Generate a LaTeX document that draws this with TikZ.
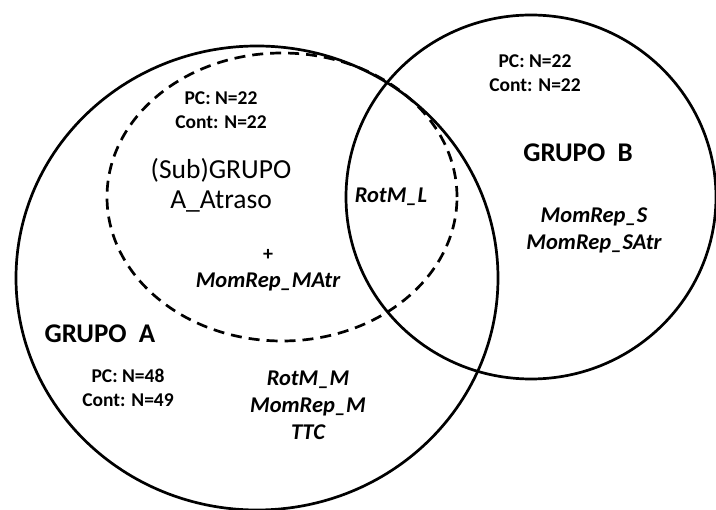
\documentclass[tikz,border=0pt]{standalone}
\usepackage{fontspec}
\setmainfont{Carlito}
\usetikzlibrary{positioning}

\begin{document}
\begin{tikzpicture}[
  x=1pt,y=-1pt,
  every node/.style={align=center,inner sep=0pt},
  every path/.style={line width=2.7pt},
  counts/.style={font=\fontsize{19.5}{23.5}\selectfont\bfseries},
  vars/.style={font=\fontsize{22.5}{27}\selectfont\bfseries\itshape},
  title/.style={font=\fontsize{27}{30}\selectfont\bfseries},
  subtitle/.style={font=\fontsize{27.5}{30}\selectfont}
]
  \useasboundingbox (0,0) rectangle (716,510);
  % the three sets
  \draw (257,278) ellipse [x radius=241pt,y radius=232pt];
  \draw (531,197) ellipse [x radius=185pt,y radius=182pt];
  \draw[dash pattern=on 11pt off 7pt] (282,197) ellipse [x radius=175pt,y radius=144pt];

  % (Sub)grupo A_Atraso
  \node[counts] (subN) at (221,110) {PC: N=22\\Cont: N=22};
  \node[subtitle] (subA) at (221,185) {(Sub)GRUPO\\A\_Atraso};
  \node[font=\fontsize{20}{24}\selectfont\bfseries] (plus) at (268,255) {+};
  \node[vars,below=27pt of plus.center,anchor=center] (momMAtr) {MomRep\_MAtr};
  \node[vars] (rotL) at (391,197) {RotM\_L};

  % grupo B
  \node[counts] (bN) at (535,73) {PC: N=22\\Cont: N=22};
  \node[title] (grupoB) at (578,153) {GRUPO\ \ B};
  \node[vars] (bVars) at (594,230) {MomRep\_S\\MomRep\_SAtr};

  % grupo A
  \node[title] (grupoA) at (100,334) {GRUPO\ \ A};
  \node[counts] (aN) at (128,388) {PC: N=48\\Cont: N=49};
  \node[vars] (aVars) at (308,405) {RotM\_M\\MomRep\_M\\TTC};
\end{tikzpicture}
\end{document}
